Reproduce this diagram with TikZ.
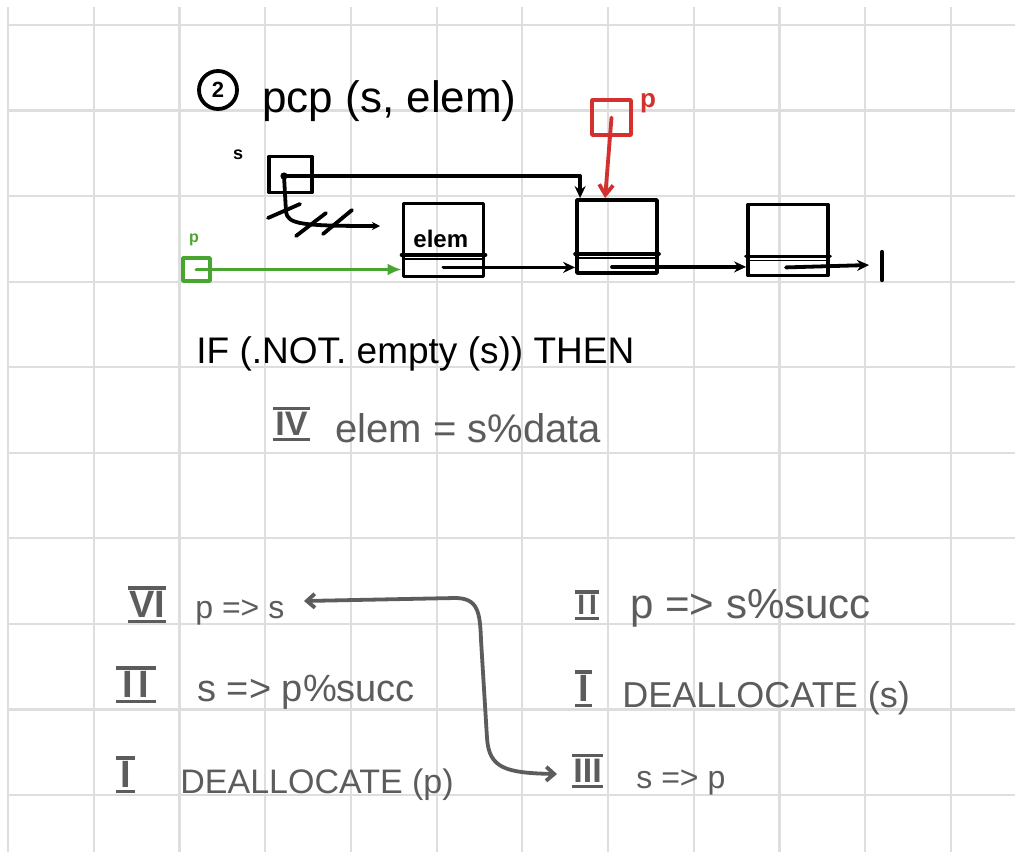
\documentclass[tikz,border=0pt]{standalone}
\usepackage{fontspec}
\setsansfont{Liberation Sans}
\usetikzlibrary{arrows.meta,calc}
\definecolor{gridc}{RGB}{222,222,222}
\definecolor{inkg}{RGB}{92,92,92}
\definecolor{inkr}{RGB}{212,48,48}
\definecolor{inkgr}{RGB}{72,165,48}
% roman numeral with bars: #1 size, #2 side pad, #3 letters
\newcommand\rnum[3]{{\fontsize{#1}{#1}\selectfont\bfseries\setbox0\hbox{\kern#2#3\kern#2}\vbox{\hrule width\wd0 height1.6pt\kern1pt\box0\kern1pt\hrule height1.6pt}}}
\newcommand\fs[1]{\fontsize{#1}{#1}\selectfont}
\begin{document}
\begin{tikzpicture}[x=0.5pt,y=-0.5pt,
  gridline/.style={draw=gridc,line width=1.1pt},
  ink/.style={line width=1.9pt,line cap=round,line join=round},
  lst/.style={draw,ink,rectangle,inner sep=0pt,minimum width=40pt,minimum height=36.5pt},
  ptr/.style={ink,-{Stealth[length=6pt,width=5.5pt]}},
  txt/.style={anchor=base west,inner sep=0pt,font=\sffamily},
  gtxt/.style={txt,text=inkg},
]
\useasboundingbox (0,0) rectangle (1015,852);
\fill[white] (0,0) rectangle (1015,852);
% grid paper
\foreach \i in {0,...,11} \draw[gridline] ({8+85.73*\i},7) -- ({8+85.73*\i},852);
\foreach \j in {0,...,9} \draw[gridline] (8,{25+85.55*\j}) -- (1015,{25+85.55*\j});

% title
\node[circle,draw,line width=1.9pt,minimum size=19pt,inner sep=0pt,font=\sffamily\bfseries\fs{11}] (num) at (218,90) {2};
\node[txt,font=\sffamily\fs{22}] (title) at (262,112) {pcp (s, elem)};

% list nodes
\node[lst] (n1) at (443.5,240) {};
\node[lst] (n2) at (617,236.5) {};
\node[lst,minimum height=35.5pt] (n3) at (788,240) {};
\foreach \n/\d in {n1/11.75,n2/10.5,n3/10.5}{
  \draw[ink] ([yshift=\d pt]\n.south west) -- ([yshift=\d pt]\n.south east);
  \draw[line width=0.7pt] ([yshift=\d pt-2pt]\n.south west) -- ([yshift=\d pt-2pt]\n.south east);
}
\node[txt,font=\sffamily\bfseries\fs{12}] (elemlbl) at (413,247) {elem};

% pointers between nodes
\coordinate (p1) at ($(n1.south)+(0,-11)$);
\coordinate (p2) at ($(n2.south)+(-5,-8)$);
\coordinate (p3) at ($(n3.south)+(-2,-10)$);
\draw[ptr] (p1) -- (p1 -| n2.west);
\draw[ptr] (p2) -- (p2 -| n3.west);
\coordinate (nullend) at (869,265);
\coordinate (nullbarT) at (882,252);
\coordinate (nullbarB) at (882,280);
\draw[ptr] (p3) -- (nullend);
\draw[ink,line width=2.2pt] (nullbarT) -- (nullbarB);

% s pointer
\node[lst,minimum width=21.5pt,minimum height=18pt] (sbox) at (290.5,174.5) {};
\node[font=\sffamily\bfseries\fs{9}] (slab) at (238,155) {s};
\coordinate (sdot) at (284,176);
\fill (sdot) circle (1.8pt);
\coordinate (n2top) at ([xshift=2.5pt]n2.north west);
\draw[ptr] (sdot) -| (n2top);
% old (crossed out) s pointer
\coordinate (oldend) at (380,226);
\draw[ink,-{Stealth[length=4pt,width=4pt]}] (sdot) -- (286,212) .. controls (288,224) and (300,226) .. (oldend);
\draw[ink] (268,218) -- (300,204);
\draw[ink] (296,236) -- (326,213);
\draw[ink] (323,234) -- (352,210);

% red p
\node[lst,draw=inkr,minimum width=19.5pt,minimum height=17.5pt] (rp) at (611.5,117.5) {};
\node[font=\sffamily\bfseries\fs{13},text=inkr] (rplab) at (648,103) {p};
\coordinate (n2top2) at ([xshift=15pt]n2.north west);
\draw[ink,draw=inkr,-{Straight Barb[length=5pt,width=7pt]}] (rp.center) -- (n2top2);

% green p
\node[lst,draw=inkgr,minimum width=13.5pt,minimum height=11.5pt] (gp) at (196.5,269.5) {};
\node[font=\sffamily\bfseries\fs{8},text=inkgr] (gplab) at (194,240) {p};
\draw[ink,draw=inkgr,-{Latex[length=7pt,width=6pt]}] (gp.center) -- (gp.center -| n1.west);

% code
\node[txt,font=\sffamily\fs{18.5}] (ifl) at (196,363) {IF (.NOT. empty (s)) THEN};
\node[gtxt] (r4) at (273,441) {\rnum{17}{1pt}{IV}};
\node[gtxt,font=\sffamily\fs{20}] (l4) at (335,442) {elem = s\%data};

% left column
\node[gtxt] (r6) at (128,623) {\rnum{19}{0.5pt}{VI}};
\node[gtxt,font=\sffamily\fs{16}] (l6) at (195,618) {p => s};
\node[gtxt] (r2a) at (116,703) {\rnum{19}{3pt}{I\kern3ptI}};
\node[gtxt,font=\sffamily\fs{19}] (l2a) at (197,701) {s => p\%succ};
\node[gtxt] (r1a) at (116,793) {\rnum{19}{2pt}{I}};
\node[gtxt,font=\sffamily\fs{17}] (l1a) at (180,793) {DEALLOCATE (p)};

% right column
\node[gtxt] (r2b) at (575,620) {\rnum{14}{1pt}{I\kern2ptI}};
\node[gtxt,font=\sffamily\fs{21}] (l2b) at (630,618) {p => s\%succ};
\node[gtxt] (r1b) at (575,707) {\rnum{19}{1.5pt}{I}};
\node[gtxt,font=\sffamily\fs{18}] (l1b) at (622,707) {DEALLOCATE (s)};
\node[gtxt] (r3b) at (572,788) {\rnum{17}{0.5pt}{III}};
\node[gtxt,font=\sffamily\fs{16}] (l3b) at (636,788) {s => p};

% swap arrow
\coordinate (cL) at (304,601);
\coordinate (cR) at (557,774);
\draw[ink,draw=inkg,{Straight Barb[length=4pt,width=7pt]}-{Straight Barb[length=4pt,width=7pt]}]
  (cL) -- (455,598) .. controls (478,598) and (480,612) .. (481,640)
  -- (487,738) .. controls (489,768) and (505,773) .. (cR);
\end{tikzpicture}
\end{document}
